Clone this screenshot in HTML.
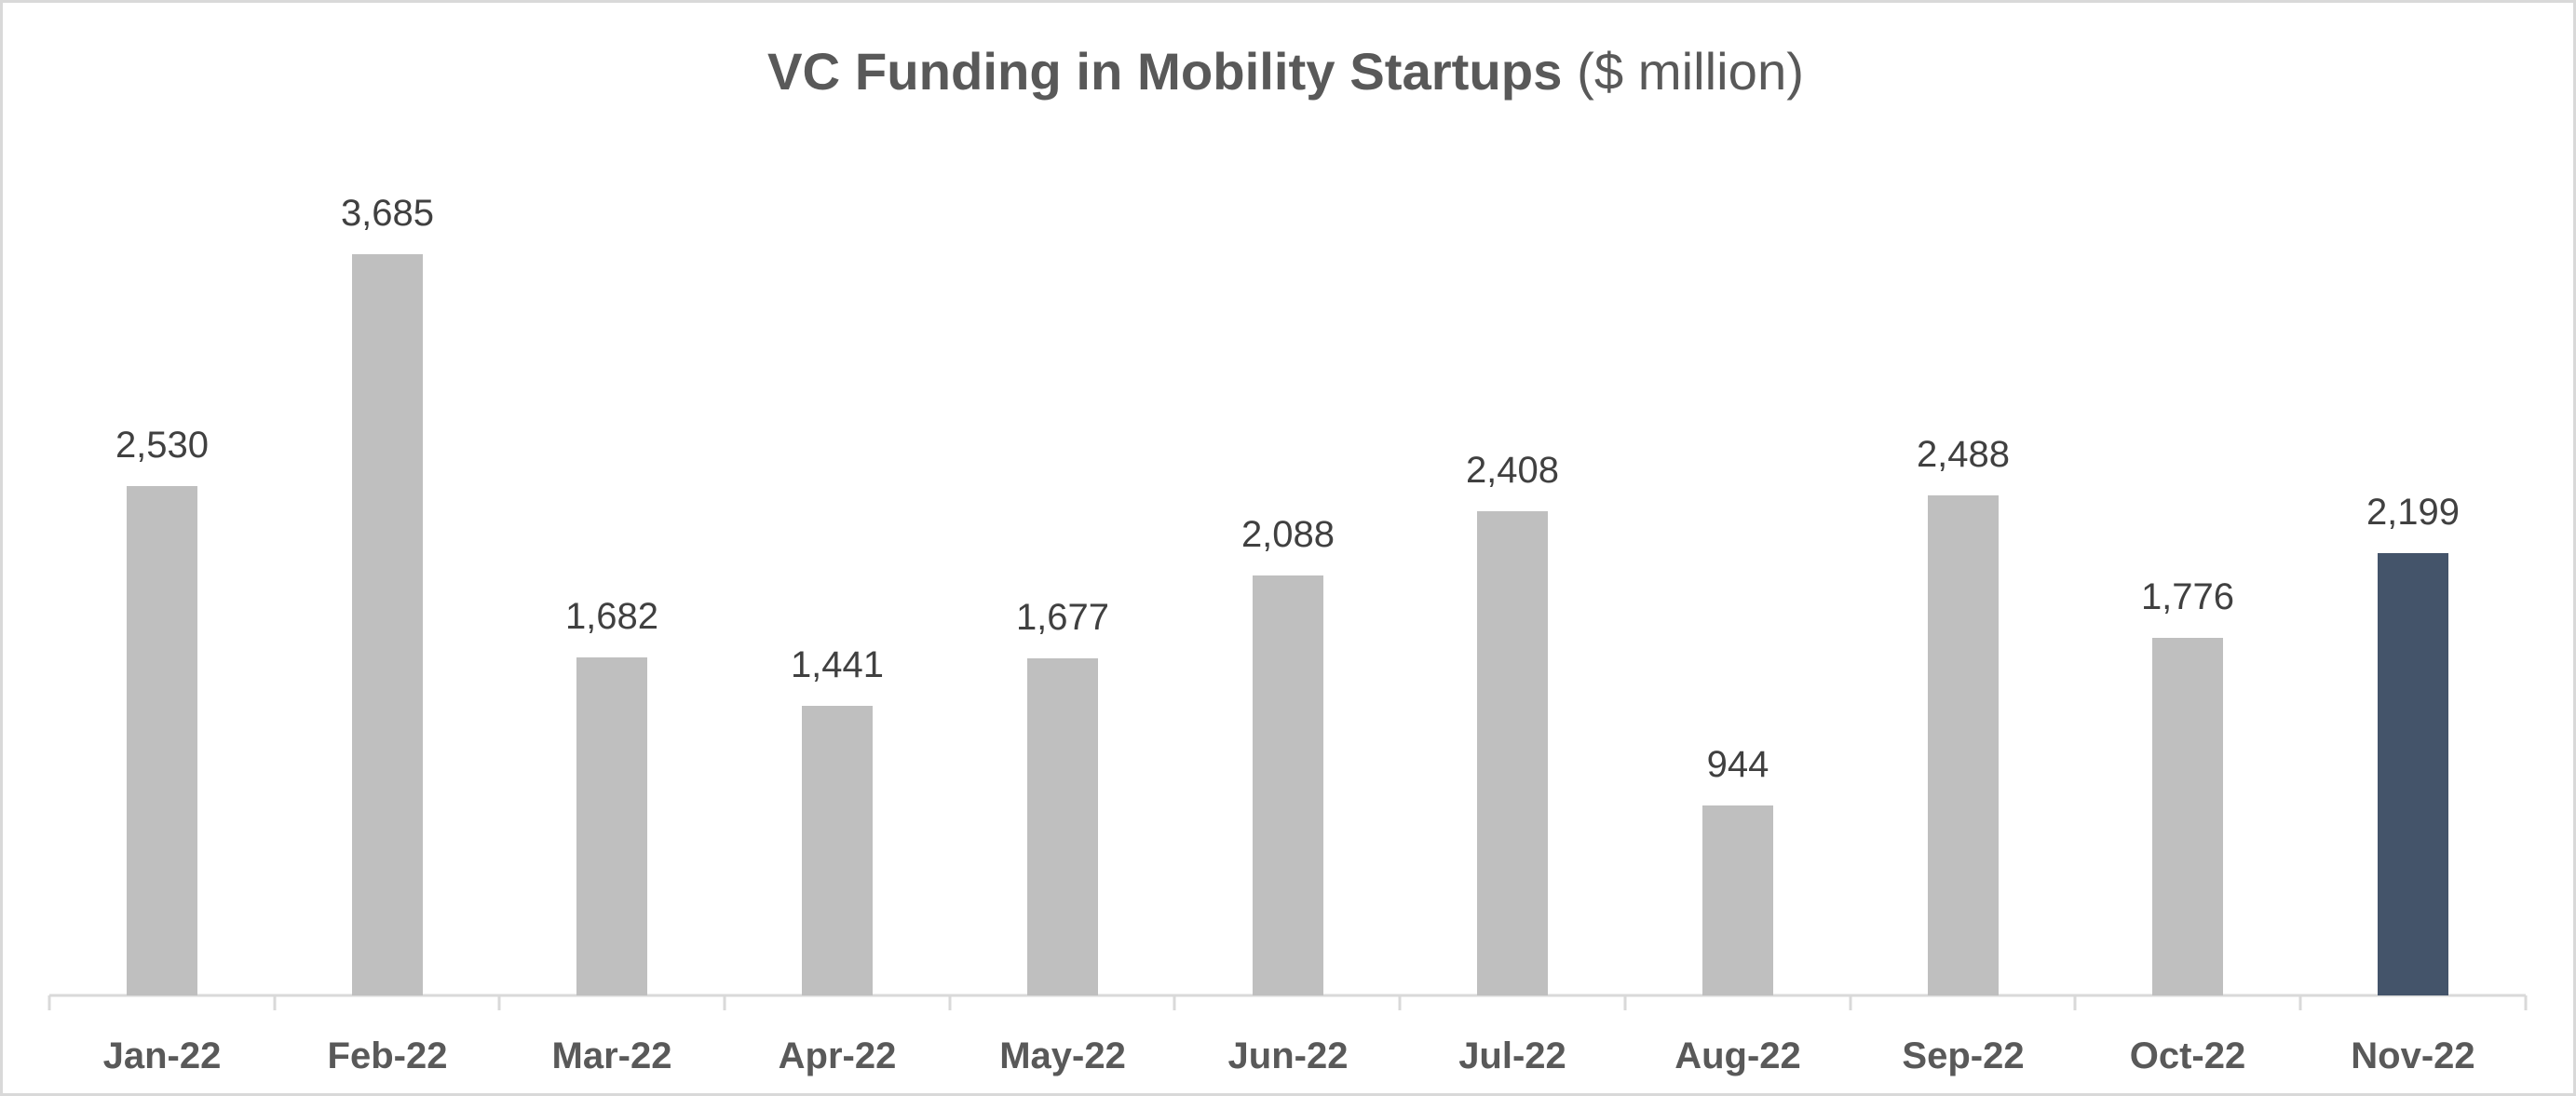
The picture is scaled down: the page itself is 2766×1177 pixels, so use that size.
<!DOCTYPE html>
<html><head><meta charset="utf-8"><style>
html,body{margin:0;padding:0;background:#fff;}
svg{display:block;}
</style></head><body>
<svg width="2766" height="1177" viewBox="0 0 2766 1177" xmlns="http://www.w3.org/2000/svg">
<rect x="1.5" y="1.5" width="2763" height="1174" fill="#fff" stroke="#d9d9d9" stroke-width="3"/>
<text x="824" y="96" font-family="Liberation Sans, sans-serif" font-size="56" fill="#595959" textLength="1113" lengthAdjust="spacingAndGlyphs"><tspan font-weight="bold">VC Funding in Mobility Startups </tspan><tspan>($ million)</tspan></text>
<g id="bars"></g>
<line x1="53" y1="1069" x2="2712" y2="1069" stroke="#d9d9d9" stroke-width="3"/>
<g stroke="#d9d9d9" stroke-width="3">
<line x1="53" y1="1069" x2="53" y2="1085"/><line x1="295" y1="1069" x2="295" y2="1085"/><line x1="536" y1="1069" x2="536" y2="1085"/><line x1="778" y1="1069" x2="778" y2="1085"/><line x1="1020" y1="1069" x2="1020" y2="1085"/><line x1="1261" y1="1069" x2="1261" y2="1085"/><line x1="1503" y1="1069" x2="1503" y2="1085"/><line x1="1745" y1="1069" x2="1745" y2="1085"/><line x1="1987" y1="1069" x2="1987" y2="1085"/><line x1="2228" y1="1069" x2="2228" y2="1085"/><line x1="2470" y1="1069" x2="2470" y2="1085"/><line x1="2712" y1="1069" x2="2712" y2="1085"/>
</g>
<g font-family="Liberation Sans, sans-serif" font-size="40" fill="#404040" text-anchor="middle">
<rect x="136" y="522" width="76" height="547" fill="#bfbfbf"/><text x="174" y="491">2,530</text>
<rect x="378" y="273" width="76" height="796" fill="#bfbfbf"/><text x="416" y="242">3,685</text>
<rect x="619" y="706" width="76" height="363" fill="#bfbfbf"/><text x="657" y="675">1,682</text>
<rect x="861" y="758" width="76" height="311" fill="#bfbfbf"/><text x="899" y="727">1,441</text>
<rect x="1103" y="707" width="76" height="362" fill="#bfbfbf"/><text x="1141" y="676">1,677</text>
<rect x="1345" y="618" width="76" height="451" fill="#bfbfbf"/><text x="1383" y="587">2,088</text>
<rect x="1586" y="549" width="76" height="520" fill="#bfbfbf"/><text x="1624" y="518">2,408</text>
<rect x="1828" y="865" width="76" height="204" fill="#bfbfbf"/><text x="1866" y="834">944</text>
<rect x="2070" y="532" width="76" height="537" fill="#bfbfbf"/><text x="2108" y="501">2,488</text>
<rect x="2311" y="685" width="76" height="384" fill="#bfbfbf"/><text x="2349" y="654">1,776</text>
<rect x="2553" y="594" width="76" height="475" fill="#44546a"/><text x="2591" y="563">2,199</text>
</g>
<g font-family="Liberation Sans, sans-serif" font-size="40" font-weight="bold" fill="#595959" text-anchor="middle">
<text x="174" y="1147">Jan-22</text><text x="416" y="1147">Feb-22</text><text x="657" y="1147">Mar-22</text><text x="899" y="1147">Apr-22</text><text x="1141" y="1147">May-22</text><text x="1383" y="1147">Jun-22</text><text x="1624" y="1147">Jul-22</text><text x="1866" y="1147">Aug-22</text><text x="2108" y="1147">Sep-22</text><text x="2349" y="1147">Oct-22</text><text x="2591" y="1147">Nov-22</text>
</g>
</svg>
</body></html>
